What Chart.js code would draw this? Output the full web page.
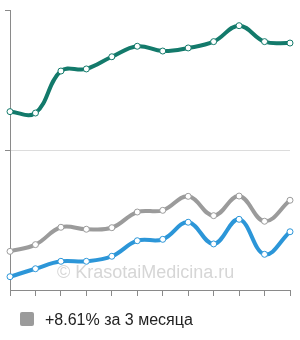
<!DOCTYPE html>
<html>
<head>
<meta charset="utf-8">
<script src="https://cdn.jsdelivr.net/npm/chart.js@4.4.1/dist/chart.umd.min.js"></script>
<style>
    body { margin: 0; background: #fff; }
    #wrap { position: relative; width: 300px; height: 340px; }
    .legend-box { position: absolute; left: 20px; top: 312px; width: 14px; height: 14px; background: #9b9b9b; border-radius: 2px; }
    .legend-text { position: absolute; left: 45px; top: 311px; font: 16px/18px "Liberation Sans", Arial, sans-serif; color: #222; white-space: nowrap; }
</style>
</head>
<body>
<div id="wrap">
    <canvas id="trendChart" width="300" height="340"></canvas>
    <div class="legend-box"></div>
    <div class="legend-text">+8.61% за 3 месяца</div>
</div>
<script>
    // values, 0..100 on each panel
    var labels = ["1", "2", "3", "4", "5", "6", "7", "8", "9", "10", "11", "12"];
    var topSeries = [27.4, 26.4, 56.4, 57.9, 66.6, 74.1, 70.7, 72.9, 77.4, 88.8, 77.4, 76.4];
    var graySeries = [27.6, 32.4, 44.8, 43.4, 44.5, 55.7, 56.9, 66.9, 53.1, 67.1, 49.1, 64.1];
    var blueSeries = [9.5, 15.2, 20.5, 20.5, 24.1, 35.2, 36.2, 48.4, 32.9, 50.5, 25.5, 41.6];
    var watermarkText = "© KrasotaiMedicina.ru";

    var axisColor = "#8a8a8a";

    // only keep the top tick of a panel
    function topTickOnly(scale) {
        scale.ticks = [{ value: scale.max }];
    }

    var watermark = {
        id: "watermark",
        beforeDatasetsDraw: function (chart) {
            var ctx = chart.ctx;
            ctx.save();
            ctx.font = '18px "Liberation Sans", Arial, sans-serif';
            ctx.fillStyle = "#d6d6d6";
            ctx.textBaseline = "alphabetic";
            ctx.fillText(watermarkText, 57, 278);
            ctx.restore();
        }
    };

    function lineSet(data, color, axis) {
        return {
            data: data,
            yAxisID: axis,
            borderColor: color,
            borderWidth: 4,
            tension: 0.4,
            fill: false,
            pointRadius: 3,
            pointBorderWidth: 1,
            pointBackgroundColor: "#fff",
            pointBorderColor: color,
            clip: false
        };
    }

    var ctx = document.getElementById("trendChart").getContext("2d");
    new Chart(ctx, {
        type: "line",
        data: {
            labels: labels,
            datasets: [
                lineSet(topSeries, "#137a6b", "yTop"),
                lineSet(graySeries, "#9b9b9b", "yBottom"),
                lineSet(blueSeries, "#2c96d8", "yBottom")
            ]
        },
        options: {
            responsive: false,
            animation: false,
            layout: { padding: { left: 5, top: 10, right: 10, bottom: 44 } },
            plugins: {
                legend: { display: false },
                tooltip: { enabled: false }
            },
            scales: {
                x: {
                    offset: false,
                    grid: { drawOnChartArea: false, color: axisColor, tickLength: 6 },
                    border: { color: axisColor },
                    ticks: { display: false }
                },
                yTop: {
                    type: "linear",
                    position: "left",
                    stack: "panels",
                    stackWeight: 1,
                    weight: 1,
                    min: 0,
                    max: 100,
                    afterBuildTicks: topTickOnly,
                    grid: { drawOnChartArea: false, color: axisColor, tickLength: 5 },
                    border: { color: axisColor },
                    ticks: { display: false }
                },
                yBottom: {
                    type: "linear",
                    position: "left",
                    stack: "panels",
                    stackWeight: 1,
                    weight: 0,
                    min: 0,
                    max: 100,
                    afterBuildTicks: topTickOnly,
                    grid: { color: "#dcdcdc", tickColor: axisColor, tickLength: 5 },
                    border: { color: axisColor },
                    ticks: { display: false }
                }
            }
        },
        plugins: [watermark]
    });
</script>
</body>
</html>
